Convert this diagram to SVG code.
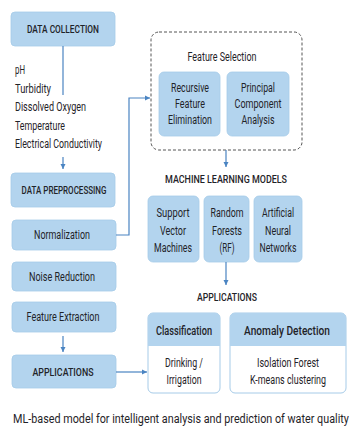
<svg xmlns="http://www.w3.org/2000/svg" width="353" height="428" viewBox="0 0 353 428">
<defs>
<style>
text{font-family:Roboto,"Liberation Sans",sans-serif;fill:#1f2328;}
.box{fill:#b3d4ee;stroke:#a6cbe8;stroke-width:0.8;}
.t{font-size:11.5px;font-weight:500;text-anchor:middle;}
.n{font-size:12px;text-anchor:middle;}
.l{font-size:12px;}
.h{font-size:12.5px;font-weight:500;text-anchor:middle;}
.c{fill:none;stroke:#4a84c2;stroke-width:1.2;}
</style>
<marker id="ar" markerWidth="6" markerHeight="6" refX="5" refY="3" orient="auto" markerUnits="userSpaceOnUse">
<path d="M0,0.5 L5,3 L0,5.5 Z" fill="#4a84c2"/>
</marker>
</defs>
<rect width="353" height="428" fill="#ffffff"/>

<g id="data-collection">
<rect class="box" x="11" y="12" width="104" height="34" rx="4"/>
<text class="t" x="63" y="33" textLength="72" lengthAdjust="spacingAndGlyphs">DATA COLLECTION</text>
</g>
<g id="parameters">
<text class="l" x="15" y="74" textLength="10" lengthAdjust="spacingAndGlyphs">pH</text>
<text class="l" x="15" y="92.5" textLength="36" lengthAdjust="spacingAndGlyphs">Turbidity</text>
<text class="l" x="15" y="111" textLength="71" lengthAdjust="spacingAndGlyphs">Dissolved Oxygen</text>
<text class="l" x="15" y="129.5" textLength="50" lengthAdjust="spacingAndGlyphs">Temperature</text>
<text class="l" x="15" y="148" textLength="87" lengthAdjust="spacingAndGlyphs">Electrical Conductivity</text>
</g>
<g id="data-preprocessing">
<rect class="box" x="11" y="173" width="104" height="34" rx="4"/>
<text class="t" x="64" y="194" textLength="85" lengthAdjust="spacingAndGlyphs">DATA PREPROCESSING</text>
</g>
<g id="normalization">
<rect class="box" x="12" y="220" width="104" height="30" rx="4"/>
<text class="n" x="62" y="239" textLength="56" lengthAdjust="spacingAndGlyphs">Normalization</text>
</g>
<g id="noise-reduction">
<rect class="box" x="12" y="262" width="104" height="29" rx="4"/>
<text class="n" x="62" y="280.5" textLength="66" lengthAdjust="spacingAndGlyphs">Noise Reduction</text>
</g>
<g id="feature-extraction">
<rect class="box" x="12" y="302" width="104" height="30" rx="4"/>
<text class="n" x="63" y="321" textLength="73" lengthAdjust="spacingAndGlyphs">Feature Extraction</text>
</g>
<g id="applications-left">
<rect class="box" x="12" y="355" width="104" height="33" rx="4"/>
<text class="t" x="63" y="376" textLength="61" lengthAdjust="spacingAndGlyphs">APPLICATIONS</text>
</g>

<g id="feature-selection">
<rect x="151" y="32" width="151" height="118" rx="8" fill="none" stroke="#555" stroke-width="1" stroke-dasharray="3,2"/>
<text class="n" x="222" y="61" textLength="69" lengthAdjust="spacingAndGlyphs">Feature Selection</text>
</g>
<g id="rfe">
<rect class="box" x="159" y="72" width="61" height="64" rx="5"/>
<text class="n" x="190" y="92" textLength="38" lengthAdjust="spacingAndGlyphs">Recursive</text>
<text class="n" x="190" y="108" textLength="30" lengthAdjust="spacingAndGlyphs">Feature</text>
<text class="n" x="190" y="124" textLength="44" lengthAdjust="spacingAndGlyphs">Elimination</text>
</g>
<g id="pca">
<rect class="box" x="227" y="72" width="62" height="64" rx="5"/>
<text class="n" x="258" y="92" textLength="34" lengthAdjust="spacingAndGlyphs">Principal</text>
<text class="n" x="258" y="108" textLength="47" lengthAdjust="spacingAndGlyphs">Component</text>
<text class="n" x="258" y="124" textLength="33" lengthAdjust="spacingAndGlyphs">Analysis</text>
</g>

<g id="ml-models-title">
<text class="t" x="226" y="183" textLength="122" lengthAdjust="spacingAndGlyphs">MACHINE LEARNING MODELS</text>
</g>
<g id="svm">
<rect class="box" x="148" y="196" width="51" height="66" rx="5"/>
<text class="n" x="173" y="217" textLength="33" lengthAdjust="spacingAndGlyphs">Support</text>
<text class="n" x="173" y="235" textLength="26" lengthAdjust="spacingAndGlyphs">Vector</text>
<text class="n" x="173" y="252" textLength="38" lengthAdjust="spacingAndGlyphs">Machines</text>
</g>
<g id="rf">
<rect class="box" x="204" y="196" width="45" height="66" rx="5"/>
<text class="n" x="227" y="217" textLength="33" lengthAdjust="spacingAndGlyphs">Random</text>
<text class="n" x="227" y="235" textLength="30" lengthAdjust="spacingAndGlyphs">Forests</text>
<text class="n" x="227" y="252" textLength="15" lengthAdjust="spacingAndGlyphs">(RF)</text>
</g>
<g id="ann">
<rect class="box" x="254" y="196" width="48" height="66" rx="5"/>
<text class="n" x="278" y="217" textLength="32" lengthAdjust="spacingAndGlyphs">Artificial</text>
<text class="n" x="278" y="235" textLength="26" lengthAdjust="spacingAndGlyphs">Neural</text>
<text class="n" x="278" y="252" textLength="37" lengthAdjust="spacingAndGlyphs">Networks</text>
</g>

<g id="applications-title">
<text class="t" x="227" y="301" textLength="60" lengthAdjust="spacingAndGlyphs">APPLICATIONS</text>
</g>
<g id="classification">
<rect x="148" y="313" width="72" height="80" rx="5" fill="#ffffff" stroke="#a6cbe8" stroke-width="1"/>
<path d="M148,346 V318 A5,5 0 0 1 153,313 H215 A5,5 0 0 1 220,318 V346 Z" fill="#b3d4ee"/>
<text class="h" x="184" y="334.5" textLength="56" lengthAdjust="spacingAndGlyphs">Classification</text>
<text class="n" x="184" y="367" textLength="38" lengthAdjust="spacingAndGlyphs">Drinking /</text>
<text class="n" x="184" y="384" textLength="35" lengthAdjust="spacingAndGlyphs">Irrigation</text>
</g>
<g id="anomaly-detection">
<rect x="230" y="313" width="116" height="80" rx="5" fill="#ffffff" stroke="#a6cbe8" stroke-width="1"/>
<path d="M230,346 V318 A5,5 0 0 1 235,313 H341 A5,5 0 0 1 346,318 V346 Z" fill="#b3d4ee"/>
<text class="h" x="287" y="334.5" textLength="86" lengthAdjust="spacingAndGlyphs">Anomaly Detection</text>
<text class="n" x="288" y="367" textLength="62" lengthAdjust="spacingAndGlyphs">Isolation Forest</text>
<text class="n" x="288" y="384" textLength="76" lengthAdjust="spacingAndGlyphs">K-means clustering</text>
</g>

<g id="connectors">
<line class="c" x1="63" y1="46" x2="63" y2="95"/>
<line class="c" x1="63" y1="157" x2="63" y2="169" marker-end="url(#ar)"/>
<polyline class="c" points="116,235 129,235 129,98 150,98" marker-end="url(#ar)"/>
<line class="c" x1="63" y1="336" x2="63" y2="352" marker-end="url(#ar)"/>
<line class="c" x1="116" y1="372" x2="147" y2="372" marker-end="url(#ar)"/>
<line class="c" x1="226" y1="150" x2="226" y2="167" marker-end="url(#ar)"/>
<line class="c" x1="226" y1="262" x2="226" y2="285" marker-end="url(#ar)"/>
</g>

<g id="caption">
<text transform="translate(13,423) scale(0.76,1)" x="0" y="0" style="font-size:13px" textLength="442" lengthAdjust="spacingAndGlyphs">ML-based model for intelligent analysis and prediction of water quality</text>
</g>
</svg>
